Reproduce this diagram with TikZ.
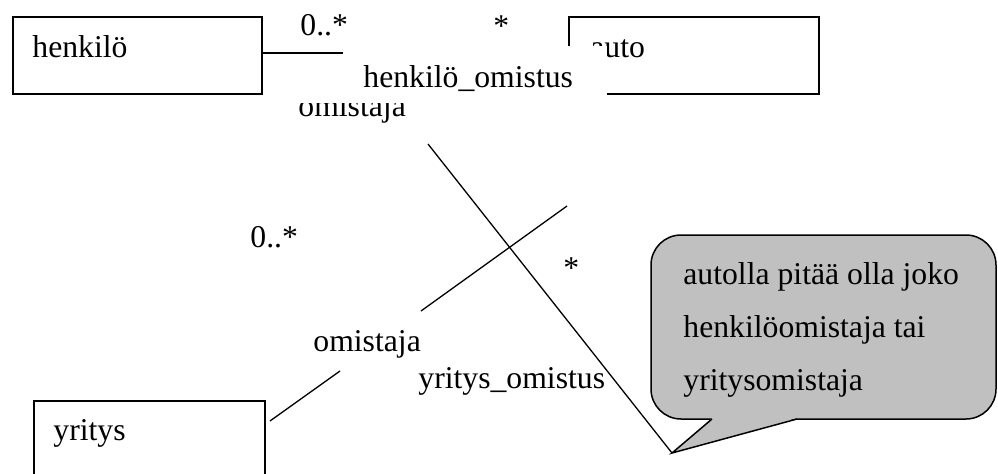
\documentclass[tikz,border=0pt]{standalone}
\usepackage{fontspec}
\setmainfont{Liberation Serif}
\definecolor{calloutgray}{RGB}{192,192,192}
\begin{document}
\begin{tikzpicture}[x=0.5pt,y=-0.5pt,
  lbl/.style={anchor=base west, inner sep=0pt, font=\fontsize{15.85pt}{19pt}\selectfont},
  classbox/.style={draw, line width=1pt, anchor=north west, inner sep=0pt},
  conn/.style={line width=0.65pt},
  note/.style={draw, line width=0.75pt, fill=calloutgray, rounded corners=15pt},
  ]
\useasboundingbox (0,0) rectangle (998,473);
\clip (0,0) rectangle (998,473);
% class boxes
\node[classbox, minimum width=124.5pt, minimum height=38.5pt] (henkilo) at (12,16) {};
\node[lbl] (henkilotxt) at (32,57) {henkilö};
\node[classbox, minimum width=125pt, minimum height=38.5pt] (auto) at (568,16) {};
\node[lbl] (autotxt) at (590,57) {auto};
\node[lbl] (omistaja1) at (298,116) {omistaja};
% white label background of the association name
\fill[white] (290,46) rectangle (607,103);
\node[lbl] (homistus) at (363,87) {henkilö\_omistus};
% association henkilö - auto
\coordinate (h1) at (343,53);
\draw[conn] (henkilo.east |- h1) -- (h1);
\node[lbl] (m1) at (300,35) {0..*};
\node[lbl] (m2) at (493,36) {*};
% yritys box
\node[classbox, minimum width=115.5pt, minimum height=50pt] (yritys) at (33,400) {};
\node[lbl] (yritystxt) at (53,440) {yritys};
% association yritys - auto
\coordinate (b1) at (567,206);
\coordinate (b2) at (421,311);
\coordinate (b3) at (340,371);
\coordinate (b4) at (270,421);
\draw[conn] (b1) -- (b2);
\draw[conn] (b3) -- (b4);
\node[lbl] (m3) at (250,247) {0..*};
\node[lbl] (m4) at (563,278) {*};
\node[lbl] (omistaja2) at (313,351) {omistaja};
\node[lbl] (yomistus) at (418,388) {yritys\_omistus};
% callout
\coordinate (tip) at (672,453);
\coordinate (a1) at (428,144);
\draw[conn] (a1) -- (tip);
\draw[note] (651,235) rectangle (996,419);
\fill[calloutgray] (712,418) -- (797,418) -- (tip) -- cycle;
\coordinate (t1) at (712,419);
\coordinate (t2) at (797,419);
\draw[line width=0.75pt, line join=miter] (t1) -- (tip) -- (t2);
\node[lbl] (n1) at (683,284) {autolla pitää olla joko};
\node[lbl] (n2) at (683,337) {henkilöomistaja tai};
\node[lbl] (n3) at (683,390) {yritysomistaja};
\end{tikzpicture}
\end{document}
